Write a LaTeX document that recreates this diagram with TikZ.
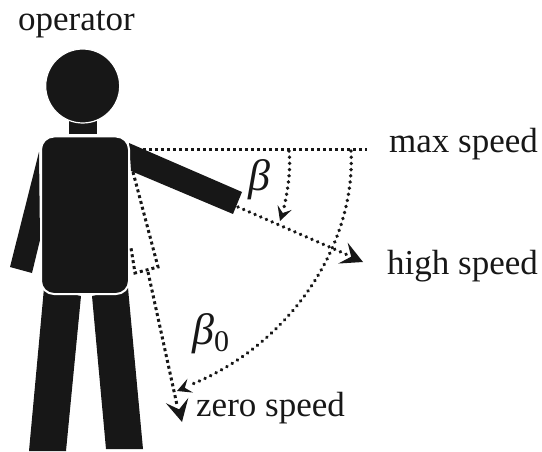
\documentclass[tikz,border=0pt]{standalone}
\usepackage{fontspec}
\setmainfont{Liberation Serif}
\definecolor{ink}{gray}{0.09}
\tikzset{
 body/.style={fill=ink,draw=none},
 dots/.style={ink,line width=3pt,dash pattern=on 3pt off 3pt},
 rounddots/.style={ink,line width=3.8pt,line cap=round,dash pattern=on 0.01pt off 6.2pt},
 lab/.style={font=\fontsize{35}{38}\selectfont,text=ink,inner sep=0pt,anchor=base west},
 mathlab/.style={font=\fontsize{44}{46}\selectfont\itshape,text=ink,inner sep=0pt,anchor=base west},
 tip/.style={fill=ink,draw=none}
}
\newcommand{\arrowhead}[3]{% tip coordinate, image angle clockwise from east, size
 \fill[tip,shift={(#1)},rotate=-#2,scale=#3] (0,0) -- (-22,-11.5) -- (-13,0) -- (-22,11.5) -- cycle;}
\begin{document}
\begin{tikzpicture}[x=1pt,y=-1pt]
\useasboundingbox (0,0) rectangle (542,452);
% body
\fill[body] (69,118) rectangle (97,134);
\draw[fill=ink,draw=white,line width=1.2pt] (82.7,86) circle (37);
\fill[body] (39,152) -- (10,267) -- (32,273) -- (40,240) -- cycle;
\fill[body] (129,143) -- (242,192) -- (233,214) -- (131,171) -- cycle;
\fill[body] (44,288) -- (81,296) -- (66,451) -- (29,451) -- cycle;
\fill[body] (92,296) -- (128,288) -- (143,449) -- (106,449) -- cycle;
\fill[white] (81,290) rectangle (92,297);
\draw[fill=ink,draw=white,line width=2pt,rounded corners=13pt] (41,136.5) rectangle (129,294);
% dotted lines
\coordinate (shoulderTop) at (143,149.5);
\coordinate (maxEnd) at (367,149.5);
\coordinate (handEnd) at (238,207);
\coordinate (armIn) at (133,172);
\coordinate (elbow) at (158,267);
\coordinate (cuff) at (135,273);
\coordinate (wrist) at (131,248);
\draw[dots] (shoulderTop) -- (maxEnd);
\draw[rounddots] (handEnd) -- (350,256);
\draw[dots] (armIn) -- (elbow) -- (cuff) -- (wrist);
\draw[dots] (148,272) -- (177,405);
\draw[rounddots] (289,151) .. controls (291,170) and (288,190) .. (283,212);
\draw[rounddots] (351,151) .. controls (356,245) and (290,345) .. (190,385);
% arrows
\arrowhead{363,262}{24}{1}
\arrowhead{182,422}{77}{1}
\arrowhead{177,391}{158}{0.65}
\arrowhead{280,221}{109}{0.65}
% labels
\node[lab] (op) at (18,31) {operator};
\node[lab] (mx) at (389,153) {max speed};
\node[lab] (hi) at (387,275) {high speed};
\node[lab] (ze) at (196,416) {zero speed};
\node[mathlab] (b) at (248,190) {β};
\node[mathlab] (b0) at (192,344) {β\raisebox{-7pt}{\upshape\fontsize{30}{30}\selectfont 0}};
\end{tikzpicture}
\end{document}
